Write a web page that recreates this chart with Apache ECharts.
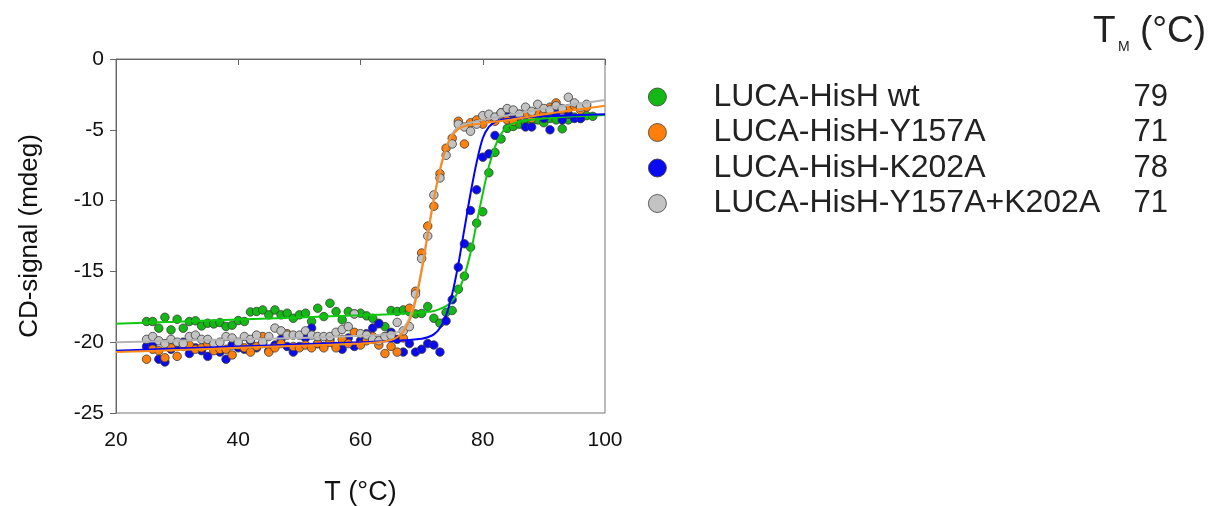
<!DOCTYPE html>
<html>
<head>
<meta charset="utf-8">
<script src="https://cdn.jsdelivr.net/npm/echarts@6/dist/echarts.min.js"></script>
<style>
html,body{margin:0;padding:0;background:#fff;}
#chart{width:1209px;height:506px;}
</style>
</head>
<body>
<div id="chart"></div>
<script>
// Temperatures (°C)
const temps = [25,26,27,28,29,30,31,32,33,34,35,36,37,38,39,40,41,42,43,44,45,46,47,48,49,50,51,52,53,54,55,56,57,58,59,60,61,62,63,64,65,66,67,68,69,70,71,72,73,74,75,76,77,78,79,80,81,82,83,84,85,86,87,88,89,90,91,92,93,94,95,96,97,98];

// CD signal (mdeg) measured points
const wtValues = [-18.54,-18.54,-19.01,-18.24,-19.13,-18.38,-19.01,-18.54,-18.49,-18.85,-18.66,-18.71,-18.61,-18.89,-18.80,-18.47,-18.54,-17.86,-17.83,-17.72,-18.07,-17.72,-18.07,-17.95,-18.31,-18.07,-17.95,-18.54,-17.60,-18.19,-17.25,-17.83,-18.42,-17.83,-18.00,-17.95,-18.14,-18.31,-18.66,-18.90,-17.76,-17.83,-17.72,-17.85,-18.00,-17.97,-17.48,-18.31,-18.66,-17.90,-17.76,-16.26,-15.33,-13.29,-11.59,-10.79,-8.03,-6.60,-5.65,-4.90,-4.76,-4.60,-4.50,-4.40,-4.30,-4.50,-4.20,-4.30,-4.93,-4.30,-4.10,-4.20,-4.00,-4.05];
const y157aValues = [-21.2,-20.5,-20.6,-21.1,-20.4,-21.0,-20.3,-20.2,-20.5,-20.4,-20.1,-20.6,-20.5,-20.5,-20.9,-20.2,-20.4,-20.7,-20.3,-19.6,-20.7,-20.4,-20.1,-19.4,-20.3,-20.4,-20.2,-20.4,-20.1,-20.4,-20.0,-20.4,-19.8,-20.1,-19.3,-20.2,-19.9,-19.6,-20.2,-20.8,-20.3,-20.7,-19.7,-17.6,-16.4,-13.7,-11.8,-10.4,-8.1,-6.3,-5.6,-4.4,-6.0,-4.5,-4.3,-4.6,-4.1,-4.4,-3.9,-4.3,-4.4,-4.0,-3.8,-4.2,-3.7,-3.9,-3.4,-3.1,-3.6,-3.5,-3.3,-3.6,-3.4,null];
const k202aValues = [-20.3,-20.2,-21.2,-21.4,-20.5,-20.3,-20.0,-20.8,-20.4,-20.6,-21.0,-20.3,-20.7,-21.2,-20.2,-20.4,-20.5,-19.9,-20.4,-20.1,-20.6,-20.2,-19.8,-20.3,-20.7,-20.3,-19.7,-19.0,-20.1,-20.3,-19.8,-20.3,-20.5,-19.7,-20.3,-19.9,-19.4,-19.0,-18.7,-19.6,-19.3,-19.8,-20.7,-20.1,-20.7,-20.5,-20.1,-20.2,-20.7,-18.5,-17.0,-14.7,-13.05,-10.7,-9.24,-6.93,-6.7,-5.4,-3.8,-4.1,-4.3,-3.9,-4.8,-4.8,-3.7,-4.2,-5.0,-3.8,-4.3,-3.9,-4.2,-4.2,null,null];
const doubleValues = [-19.8,-19.6,-19.9,-20.1,-19.8,-20.0,-20.1,-19.6,-19.5,-19.8,-19.8,-20.1,-20.0,-19.6,-19.7,-20.0,-19.6,-19.8,-19.5,-20.0,-19.6,-19.0,-19.2,-19.5,-19.5,-19.5,-19.2,-19.5,-19.6,-19.6,-19.6,-19.3,-19.1,-18.9,-18.0,-19.4,-19.5,-19.8,-19.9,-19.6,-19.5,-18.6,-19.2,-18.9,-16.6,-14.1,-12.5,-9.6,-8.4,-6.8,-6.0,-4.6,-4.8,-5.1,-4.6,-4.0,-3.9,-4.1,-3.8,-3.5,-3.6,-3.9,-3.4,-3.7,-3.2,-3.5,-3.6,-3.3,-3.5,-2.7,-3.1,-3.4,-3.2,null];

// Fitted curves
const wtFit = [[20,-18.7],[30,-18.55],[40,-18.4],[50,-18.25],[60,-18.1],[66,-18.0],[70,-17.9],[72,-17.8],[73,-17.65],[74,-17.45],[75,-17.1],[76,-16.4],[77,-15.3],[78,-13.7],[79,-11.6],[80,-9.5],[81,-7.6],[82,-6.2],[83,-5.3],[84,-4.8],[85,-4.55],[87,-4.35],[90,-4.2],[95,-4.05],[100,-3.95]];
const y157aFit = [[20,-20.7],[30,-20.55],[40,-20.4],[50,-20.25],[60,-20.1],[63,-20.0],[65,-19.85],[66,-19.65],[67,-19.25],[68,-18.5],[69,-17.1],[70,-15.0],[71,-12.4],[72,-9.9],[73,-7.8],[74,-6.3],[75,-5.4],[76,-4.95],[77,-4.75],[80,-4.55],[85,-4.25],[90,-3.9],[95,-3.6],[100,-3.3]];
const k202aFit = [[20,-20.6],[30,-20.45],[40,-20.3],[50,-20.15],[60,-20.0],[66,-19.9],[70,-19.75],[71,-19.65],[72,-19.45],[73,-19.0],[74,-18.1],[75,-16.6],[76,-14.5],[77,-12.0],[78,-9.5],[79,-7.3],[80,-5.6],[81,-4.8],[82,-4.45],[83,-4.3],[85,-4.18],[90,-4.05],[95,-3.97],[100,-3.9]];
const doubleFit = [[20,-20.0],[30,-19.9],[40,-19.8],[50,-19.7],[60,-19.55],[64,-19.45],[66,-19.3],[67,-19.0],[68,-18.3],[69,-16.9],[70,-14.8],[71,-12.3],[72,-9.9],[73,-7.9],[74,-6.3],[75,-5.3],[76,-4.8],[78,-4.5],[80,-4.3],[85,-3.9],[90,-3.5],[95,-3.2],[100,-2.9]];

const seriesNames = ['LUCA-HisH wt','LUCA-HisH-Y157A','LUCA-HisH-K202A','LUCA-HisH-Y157A+K202A'];
const tmValues = ['79','71','78','71'];
const xTicks = [20,40,60,80,100];
const yTicks = [0,-5,-10,-15,-20,-25];

const fillColors = ['#14b814','#ff7f0a','#0a0af0','#c3c3c3'];
const lineColors = ['#10c810','#ff8a1a','#0000ff','#b4b4b4'];

function pts(vals){ const out=[]; vals.forEach((v,i)=>{ if(v!==null) out.push([temps[i],v]); }); return out; }

const pointSets = [wtValues,y157aValues,k202aValues,doubleValues];
const fitSets = [wtFit,y157aFit,k202aFit,doubleFit];
const drawOrder = [0,2,1,3];

const series = [];
drawOrder.forEach((k,j)=>{
  series.push({
    name: seriesNames[k], type:'scatter', data: pts(pointSets[k]),
    symbol:'circle', symbolSize:8.5, z: 2+j,
    itemStyle:{color:fillColors[k], borderColor:'#3a3a3a', borderWidth:0.8, opacity:1},
    emphasis:{disabled:true}
  });
});
[0,3,2,1].forEach((k,j)=>{
  series.push({
    name: seriesNames[k]+' fit', type:'line', data: fitSets[k], smooth:0.3,
    showSymbol:false, symbol:'none', z: 10+j,
    lineStyle:{color:lineColors[k], width:2},
    emphasis:{disabled:true}
  });
});

const FONT = '"Liberation Sans", Arial, sans-serif';
const rowY = [97,132,168,203.5];
const graphic = [
  {type:'text', x:1093, y:31.5, style:{text:'T', font:'37px '+FONT, fill:'#222', verticalAlign:'middle'}},
  {type:'text', x:1118, y:47, style:{text:'M', font:'14px '+FONT, fill:'#222', verticalAlign:'middle'}},
  {type:'text', x:1140, y:31.5, style:{text:'(°C)', font:'37px '+FONT, fill:'#222', verticalAlign:'middle'}}
];
tmValues.forEach((t,i)=>{
  graphic.push({type:'text', x:1168, y:rowY[i], style:{text:t, font:'31px '+FONT, fill:'#222', align:'right', verticalAlign:'middle'}});
});

const chart = echarts.init(document.getElementById('chart'), null, {renderer:'canvas'});
chart.setOption({
  animation:false,
  backgroundColor:'#fff',
  textStyle:{fontFamily:FONT},
  grid:{left:116, right:604, top:59, bottom:93, show:true, borderColor:'#777', borderWidth:1, containLabel:false, outerBoundsMode:'none'},
  legend:{
    data: seriesNames, orient:'vertical', left:648, top:81, padding:0,
    itemWidth:102, itemHeight:18, itemGap:3.5, icon:'circle',
    selectedMode:false,
    textStyle:{fontSize:32, color:'#222', lineHeight:32, padding:[0,0,0,0]},
    itemStyle:{borderColor:'#3a3a3a', borderWidth:0.8}
  },
  xAxis:{
    type:'value', min:20, max:100, interval:20,
    name:'T (°C)', nameLocation:'middle', nameGap:66,
    nameTextStyle:{fontSize:27, color:'#111'},
    axisLine:{show:true, lineStyle:{color:'#666', width:1}},
    axisTick:{show:true, inside:false, length:6, lineStyle:{color:'#666'}},
    axisLabel:{fontSize:21, color:'#111', margin:17},
    splitLine:{show:false}
  },
  yAxis:{
    type:'value', min:-25, max:0, interval:5,
    name:'CD-signal (mdeg)', nameLocation:'middle', nameGap:73,
    nameTextStyle:{fontSize:26, color:'#111'},
    axisLine:{show:true, onZero:false, lineStyle:{color:'#666', width:1}},
    axisTick:{show:true, inside:false, length:6, lineStyle:{color:'#666'}},
    axisLabel:{fontSize:21, color:'#111', margin:12},
    splitLine:{show:false}
  },
  graphic: graphic,
  series: series
});
</script>
</body>
</html>
